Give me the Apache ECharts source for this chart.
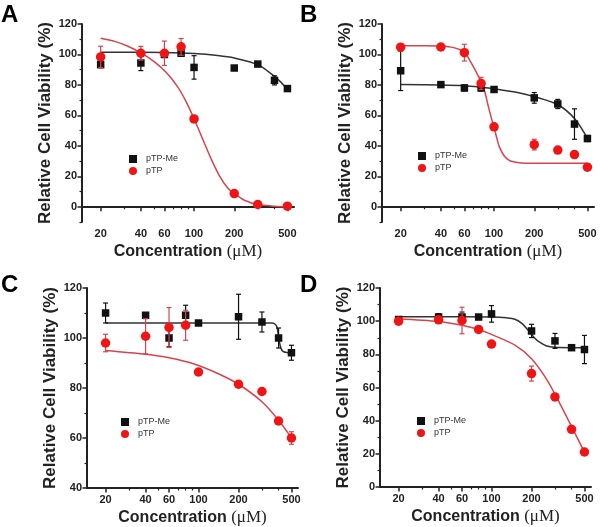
<!DOCTYPE html>
<html><head><meta charset="utf-8">
<script src="https://cdn.jsdelivr.net/npm/echarts@6/dist/echarts.min.js"></script>
<style>html,body{margin:0;padding:0;background:#fff}#c{width:600px;height:527px}</style>
</head><body><div id="c"></div>
<script>
// ---- shared axis values ----
const conc = [20, 40, 60, 80, 100, 200, 300, 400, 500];
const xMajorTicks = [20, 40, 60, 100, 200, 500];
const xMinorTicks = [30, 50, 70, 80, 90, 300, 400];
const yTicksAB = [0, 20, 40, 60, 80, 100, 120];
const yMinorAB = [-10, 10, 30, 50, 70, 90, 110];
const yTicksC = [40, 60, 80, 100, 120];
const yMinorC = [50, 70, 90, 110];
const yTicksD = [0, 20, 40, 60, 80, 100, 120];
const yMinorD = [10, 30, 50, 70, 90, 110];
const panelLetters = ['A', 'B', 'C', 'D'];
const seriesNames = ['pTP-Me', 'pTP'];

// ---- Panel A ----
const aMe = [93.3, 94.4, 100, 100.8, 91.5, 91.1, 93.7, 83, 77.6];
const aMeErr = [2, 5, 2, 1.5, 7.7, 1, 1, 3, 1];
const aTP = [98.4, 100.8, 100.8, 105, 57.7, 8.7, 1.5, null, 0.4];
const aTPErr = [7, 4.5, 8, 5.5, 1, 1, 0.5, null, 0];
const aMeFitX = [20, 40, 60, 100, 150, 200, 300, 400, 450, 500];
const aMeFitY = [101.4, 101.4, 101.3, 100.6, 99.3, 97.7, 93.3, 85.6, 81.5, 77];
const aTPFitX = [20, 25.5, 32, 40, 50, 62, 75, 87, 100, 116, 134, 155, 178, 200, 238, 300, 400, 500];
const aTPFitY = [110.7, 108.6, 105.4, 101, 95.4, 88.1, 79, 69.2, 57.8, 44.5, 31.6, 20.3, 12.5, 8.7, 4.3, 1.5, 0.4, 0];

// ---- Panel B ----
const bMe = [89.3, 80.2, 78, 78, 77, 71.5, 67.5, 54.3, 44.8];
const bMeErr = [13, 1, 2, 2, 1, 3.5, 3, 10, 2];
const bTP = [104.8, 104.9, 101.2, 81, 52.5, 40.8, 37.2, 34.3, 26];
const bTPErr = [1.5, 1, 5.5, 4, 1, 3.5, 1, 1, 1];
const bMeFitX = [20, 40, 60, 80, 100, 150, 200, 300, 400, 500];
const bMeFitY = [80.2, 80, 79.5, 78.5, 77.5, 75, 72.3, 67, 58, 45];
const bTPFitX = [20, 30, 40, 50, 60, 65, 70, 75, 80, 85, 90, 95, 100, 105, 110, 120, 130, 140, 160, 200, 300, 500];
const bTPFitY = [105.8, 105.8, 105.6, 104.5, 101.5, 97, 92, 87, 82, 76, 67, 59, 52, 45, 39, 33, 30.5, 29.5, 28.8, 28.6, 28.5, 28.5];

// ---- Panel C ----
const cMe = [110, 109.1, 100, 109.1, 106, 108.5, 106.4, 100, 94.1];
const cMeErr = [4, 1, 3.5, 4, 0.5, 9, 4, 4, 3];
const cTP = [98, 100.7, 104.2, 105.1, 86.4, 81.5, 78.6, 66.8, 60];
const cTPErr = [3.5, 7, 8, 6, 0.5, 0.5, 0.5, 0.5, 2.5];
const cMeFitX = [20, 100, 200, 300, 357, 375, 389, 400, 412, 425, 437, 460, 500];
const cMeFitY = [106, 106, 106, 106, 106, 105.6, 104.4, 100.5, 96.8, 95, 94.5, 94.2, 94];
const cTPFitX = [20, 40, 60, 94, 141, 200, 300, 400, 500];
const cTPFitY = [95, 93.5, 92.1, 89.5, 85.7, 81.5, 74.5, 67.1, 60];

// ---- Panel D ----
const dMe = [101, 102.5, 102.5, 102.5, 104.4, 94.1, 88.1, 84, 82.9];
const dMeErr = [1, 2, 3, 1.5, 5, 4, 4.5, 0.5, 8.5];
const dTP = [100, 100.8, 100.4, 95, 86.2, 68.4, 54.3, 34.8, 21.1];
const dTPErr = [2, 1.5, 8, 0.5, 0.5, 4.5, 0.5, 0.5, 0.5];
const dMeFitX = [20, 60, 100, 130, 150, 170, 190, 210, 230, 260, 300, 400, 500];
const dMeFitY = [102.6, 102.6, 102.5, 102, 101.2, 98.5, 94.2, 90, 87.3, 85, 84.2, 84, 84];
const dTPFitX = [20, 40, 60, 80, 100, 150, 200, 250, 300, 400, 500];
const dTPFitY = [101.5, 99.8, 97.5, 95, 92, 85.5, 77.4, 67, 56, 36.5, 21];

const panels = [
  {me: aMe, meErr: aMeErr, tp: aTP, tpErr: aTPErr, meFx: aMeFitX, meFy: aMeFitY, tpFx: aTPFitX, tpFy: aTPFitY,
   grid: {left: 82, top: 24, width: 212, height: 198}, yMin: -10, yMax: 120, yT: yTicksAB, yM: yMinorAB,
   legend: {left: 129, top: 154}, letter: [1, 3]},
  {me: bMe, meErr: bMeErr, tp: bTP, tpErr: bTPErr, meFx: bMeFitX, meFy: bMeFitY, tpFx: bTPFitX, tpFy: bTPFitY,
   grid: {left: 382, top: 24, width: 212, height: 198}, yMin: -10, yMax: 120, yT: yTicksAB, yM: yMinorAB,
   legend: {left: 418, top: 151}, letter: [300, 3]},
  {me: cMe, meErr: cMeErr, tp: cTP, tpErr: cTPErr, meFx: cMeFitX, meFy: cMeFitY, tpFx: cTPFitX, tpFy: cTPFitY,
   grid: {left: 87, top: 288, width: 211, height: 200}, yMin: 40, yMax: 120, yT: yTicksC, yM: yMinorC,
   legend: {left: 121, top: 417}, letter: [1, 273]},
  {me: dMe, meErr: dMeErr, tp: dTP, tpErr: dTPErr, meFx: dMeFitX, meFy: dMeFitY, tpFx: dTPFitX, tpFy: dTPFitY,
   grid: {left: 380, top: 288, width: 211, height: 199}, yMin: 0, yMax: 120, yT: yTicksD, yM: yMinorD,
   legend: {left: 417, top: 416}, letter: [300, 273]}
];

const RED = '#f01414', RED_LINE = '#d8434e', BLACK = '#111', BLACK_LINE = '#333';
const grids = [], xAxes = [], yAxes = [], series = [], legends = [], graphics = [];

function errRender(color) {
  return function (params, api) {
    const x = api.value(0), y = api.value(1), e = api.value(2);
    if (!e) return null;
    const top = api.coord([x, y + e]);
    const bot = api.coord([x, y - e]);
    const w = 2.5;
    const st = {stroke: color, lineWidth: 1.2};
    return {type: 'group', children: [
      {type: 'line', shape: {x1: top[0], y1: top[1], x2: bot[0], y2: bot[1]}, style: st},
      {type: 'line', shape: {x1: top[0] - w, y1: top[1], x2: top[0] + w, y2: top[1]}, style: st},
      {type: 'line', shape: {x1: bot[0] - w, y1: bot[1], x2: bot[0] + w, y2: bot[1]}, style: st}
    ]};
  };
}
const pair = (xs, ys) => xs.map((x, i) => [x, ys[i]]).filter(p => p[1] !== null);
const triple = (xs, ys, es) => xs.map((x, i) => [x, ys[i], es[i]]).filter(p => p[1] !== null);

const labelStyle = {fontFamily: 'Liberation Sans, Arial, sans-serif', fontWeight: 'bold', fontSize: 11, color: '#222'};

panels.forEach((p, i) => {
  grids.push(p.grid);
  const xi = xAxes.length, yi = yAxes.length;
  xAxes.push({
    type: 'log', gridIndex: i, position: 'bottom', min: 14.5, max: 560, logBase: 10,
    axisLine: {show: true, lineStyle: {color: '#222', width: 2}},
    axisTick: {show: true, inside: false, length: 4.5, lineStyle: {color: '#222', width: 1.5}, customValues: xMajorTicks},
    axisLabel: Object.assign({show: true, margin: 6, customValues: xMajorTicks}, labelStyle),
    splitLine: {show: false}, minorTick: {show: false},
    name: '{a|Concentration }{b|(μM)}', nameLocation: 'middle', nameGap: 21,
    nameTextStyle: {rich: {
      a: {fontFamily: 'Liberation Sans, Arial, sans-serif', fontWeight: 'bold', fontSize: 16, color: '#222'},
      b: {fontFamily: 'Liberation Serif, Times New Roman, serif', fontWeight: 'normal', fontSize: 17, color: '#222'}
    }}
  });
  xAxes.push({
    type: 'log', gridIndex: i, position: 'bottom', offset: 0, min: 14.5, max: 560, logBase: 10,
    axisLine: {show: false},
    axisTick: {show: true, inside: false, length: 2.5, lineStyle: {color: '#222', width: 1.2}, customValues: xMinorTicks},
    axisLabel: {show: false}, splitLine: {show: false}
  });
  yAxes.push({
    type: 'value', gridIndex: i, position: 'left', min: p.yMin, max: p.yMax,
    axisLine: {show: true, lineStyle: {color: '#222', width: 2}},
    axisTick: {show: true, inside: false, length: 4.5, lineStyle: {color: '#222', width: 1.5}, customValues: p.yT},
    axisLabel: Object.assign({show: true, margin: 5, customValues: p.yT}, labelStyle),
    splitLine: {show: false},
    name: 'Relative Cell Viability (%)', nameLocation: 'middle', nameGap: 28,
    nameTextStyle: {fontFamily: 'Liberation Sans, Arial, sans-serif', fontWeight: 'bold', fontSize: 17, color: '#222'}
  });
  yAxes.push({
    type: 'value', gridIndex: i, position: 'left', offset: 0, min: p.yMin, max: p.yMax,
    axisLine: {show: false},
    axisTick: {show: true, inside: false, length: 2.5, lineStyle: {color: '#222', width: 1.2}, customValues: p.yM},
    axisLabel: {show: false}, splitLine: {show: false}
  });
  const ax = {xAxisIndex: xi, yAxisIndex: yi};
  series.push(Object.assign({type: 'line', name: 'fitMe' + i, data: pair(p.meFx, p.meFy), smooth: 0.3,
    showSymbol: false, lineStyle: {color: BLACK_LINE, width: 1.5}, z: 2, silent: true}, ax));
  series.push(Object.assign({type: 'line', name: 'fitTP' + i, data: pair(p.tpFx, p.tpFy), smooth: 0.3,
    showSymbol: false, lineStyle: {color: RED_LINE, width: 1.5}, z: 2, silent: true}, ax));
  series.push(Object.assign({type: 'custom', name: 'errMe' + i, renderItem: errRender(BLACK), data: triple(conc, p.me, p.meErr), z: 3, silent: true}, ax));
  series.push(Object.assign({type: 'scatter', name: 'pTP-Me', data: pair(conc, p.me), symbol: 'rect', symbolSize: 7.5,
    itemStyle: {color: BLACK, opacity: 1}, z: 4}, ax));
  series.push(Object.assign({type: 'custom', name: 'errTP' + i, renderItem: errRender(RED_LINE), data: triple(conc, p.tp, p.tpErr), z: 5, silent: true}, ax));
  series.push(Object.assign({type: 'scatter', name: 'pTP', data: pair(conc, p.tp), symbol: 'circle', symbolSize: 9.5,
    itemStyle: {color: RED, opacity: 1}, z: 6}, ax));
  legends.push({
    left: p.legend.left, top: p.legend.top, orient: 'vertical', padding: 0, itemGap: 2,
    itemWidth: 8, itemHeight: 8, selectedMode: false,
    data: [{name: 'pTP-Me', icon: 'rect'}, {name: 'pTP', icon: 'circle'}],
    textStyle: {fontFamily: 'Liberation Sans, Arial, sans-serif', fontSize: 9, color: '#333', lineHeight: 10, padding: [0, 0, 0, 4]}
  });
  graphics.push({type: 'text', left: p.letter[0], top: p.letter[1],
    style: {text: panelLetters[i], font: 'bold 24px "Liberation Sans", Arial, sans-serif', fill: '#000'}});
});

const chart = echarts.init(document.getElementById('c'), null, {renderer: 'canvas'});
chart.setOption({
  animation: false,
  backgroundColor: '#fff',
  grid: grids, xAxis: xAxes, yAxis: yAxes, series: series, legend: legends, graphic: graphics
});
</script></body></html>
